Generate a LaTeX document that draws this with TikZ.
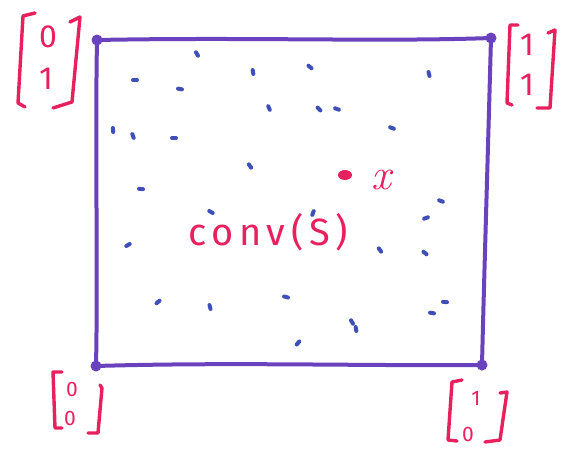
\documentclass[tikz,border=0pt]{standalone}
\usepackage{fontspec}
\usetikzlibrary{calc,shapes.geometric}
\setsansfont{Fira Sans}
\newfontfamily\handfont[LetterSpace=15]{Fira Sans}
\definecolor{edgepurple}{HTML}{6A42BE}
\definecolor{dotblue}{HTML}{3F4FB8}
\definecolor{inkpink}{HTML}{E8215E}
\tikzset{
  edge/.style={draw=edgepurple,line width=4pt,line cap=round,line join=round},
  cornerdot/.style={circle,fill=edgepurple,inner sep=0pt,minimum size=11pt},
  sdot/.style={draw=dotblue,line width=4pt,line cap=round},
  brk/.style={draw=inkpink,line width=3.4pt,line cap=round,line join=round},
  digit/.style={text=inkpink,font=\sffamily\fontsize{32}{32}\selectfont,inner sep=0pt},
  sdigit/.style={text=inkpink,font=\sffamily\fontsize{21}{21}\selectfont,inner sep=0pt},
}
\begin{document}
\begin{tikzpicture}[x=1pt,y=-1pt]
\useasboundingbox (0,0) rectangle (571,450);
% corners
\node[cornerdot] (tl) at (97,40) {};
\node[cornerdot] (tr) at (491,38) {};
\node[cornerdot] (bl) at (96,366) {};
\node[cornerdot] (br) at (482,365) {};
% edges
\draw[edge] (tl.center) .. controls (250,37) and (380,42) .. (tr.center);
\draw[edge] (tr.center) .. controls (488,150) and (484,280) .. (br.center);
\draw[edge] (tl.center) .. controls (95,150) and (98,270) .. (bl.center);
\draw[edge] (bl.center) .. controls (230,362) and (360,366) .. (br.center);
% dots of S
\foreach \x/\y/\a in {197/54/60, 135/80/0, 180/89/10, 253/72/80, 310/67/40, 429/74/75,
  269/108/65, 319/109/45, 337/109/20, 113/130/85, 133/136/70, 174/138/0, 392/128/20,
  250/166/55, 141/189/5, 211/212/30, 313/213/110, 441/201/20, 426/218/160,
  128/245/150, 380/250/55, 425/253/40, 158/302/140, 210/307/75, 286/297/15,
  445/302/5, 432/313/10, 352/322/60, 356/329/80, 298/343/130}
  \draw[sdot] ($(\x,\y)+(\a:2)$) -- ($(\x,\y)+(\a+180:2)$);
% the point x
\node[ellipse,fill=inkpink,inner sep=0pt,minimum width=14pt,minimum height=10pt] (px) at (345,175) {};
\node[text=inkpink,font=\fontsize{44}{44}\selectfont\itshape,inner sep=0pt] (lx) at (381,180) {x};
% label
\node[text=inkpink,font=\handfont\fontsize{38}{38}\selectfont,inner sep=0pt] (conv) at (268,232) {conv(S)};
% top-left vector [0;1]
\draw[brk] (35,13) -- (23,16) -- (18,103) -- (25,107);
\draw[brk] (70,22) -- (80,17) -- (72,102) -- (53,108);
\node[digit] (tl0) at (48,37) {0};
\node[digit] (tl1) at (46,79) {1};
% top-right vector [1;1]
\draw[brk] (518,25) -- (510,25) -- (507,103) -- (512,105);
\draw[brk] (548,33) -- (555,30) -- (550,108) -- (537,108);
\node[digit] (tr1) at (527,45) {1};
\node[digit] (tr2) at (527,85) {1};
% bottom-left vector [0;0]
\draw[brk] (62,372) -- (53,372) -- (55,428) -- (62,428);
\draw[brk] (100,385) -- (102,388) -- (98,433) -- (88,433);
\node[sdigit] (bl0) at (72,389) {0};
\node[sdigit] (bl1) at (70,418) {0};
% bottom-right vector [1;0]
\draw[brk] (462,380) -- (452,382) -- (448,440) -- (457,441);
\draw[brk] (500,393) -- (507,392) -- (500,440) -- (485,442);
\node[sdigit] (br1) at (476,398) {1};
\node[sdigit] (br0) at (468,434) {0};
\end{tikzpicture}
\end{document}
